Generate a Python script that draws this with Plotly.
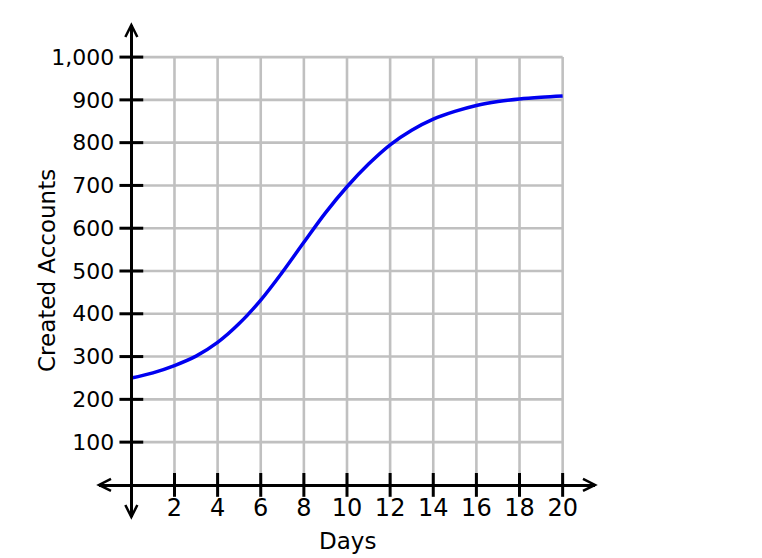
import plotly.graph_objects as go

# data
days = [0, 1, 2, 3, 4, 5, 6, 7, 8, 9, 10, 11, 12, 13, 14, 15, 16, 17, 18, 19, 20]
accounts = [250, 262, 279, 301, 333, 377, 432, 497, 567, 636, 697, 750, 795, 829, 855, 873, 887, 896, 902, 906, 909]

x_ticks = [2, 4, 6, 8, 10, 12, 14, 16, 18, 20]
y_ticks = [100, 200, 300, 400, 500, 600, 700, 800, 900, 1000]
y_labels = ['100', '200', '300', '400', '500', '600', '700', '800', '900', '1,000']

FONT = 'DejaVu Sans'
GRID = '#c0c0c0'

fig = go.Figure()

# grid, only inside 0..20 / 0..1000
gx, gy = [], []
for v in x_ticks:
    gx += [v, v, None]
    gy += [0, y_ticks[-1], None]
for v in y_ticks:
    gx += [0, x_ticks[-1], None]
    gy += [v, v, None]
fig.add_trace(go.Scatter(x=gx, y=gy, mode='lines', line=dict(color=GRID, width=2.6),
                         hoverinfo='skip', showlegend=False))

# the S-curve
fig.add_trace(go.Scatter(x=days, y=accounts, mode='lines',
                         line=dict(color='#0000f0', width=3.5, shape='spline'),
                         showlegend=False))

# tick marks crossing the axes
fig.add_trace(go.Scatter(x=x_ticks, y=[0] * len(x_ticks), mode='markers',
                         marker=dict(symbol='line-ns', size=17, line=dict(color='black', width=3)),
                         hoverinfo='skip', showlegend=False))
fig.add_trace(go.Scatter(x=[0] * len(y_ticks), y=y_ticks, mode='markers',
                         marker=dict(symbol='line-ew', size=17, line=dict(color='black', width=3)),
                         hoverinfo='skip', showlegend=False))

# open chevron arrow heads at both ends of each axis
pos = 1.5 / 23
arrows = [
    (1, pos, 'M-12,6 L0,0 L-12,-6'),
    (0, pos, 'M12,6 L0,0 L12,-6'),
    (pos, 1, 'M-6,-12 L0,0 L6,-12'),
    (pos, 0, 'M-6,12 L0,0 L6,12'),
]
for ax_, ay_, p in arrows:
    fig.add_shape(type='path', xref='x domain', yref='y domain', xsizemode='pixel', ysizemode='pixel',
                  xanchor=ax_, yanchor=ay_, path=p, line=dict(color='black', width=2.5))

fig.add_annotation(text='Days', xref='paper', yref='paper', x=0.5, y=0, yshift=-24,
                   xanchor='center', yanchor='middle',
                   showarrow=False, font=dict(family=FONT, size=23, color='black'))
fig.add_annotation(text='Created Accounts', xref='paper', yref='paper', x=0, y=0.5, xshift=-52,
                   xanchor='center', yanchor='middle',
                   textangle=-90, showarrow=False, font=dict(family=FONT, size=23, color='black'))

fig.update_layout(
    width=762, height=558,
    margin=dict(l=91, r=175, t=17, b=49),
    paper_bgcolor='white', plot_bgcolor='white',
    font=dict(family=FONT, size=22, color='black'),
    xaxis=dict(range=[-1.5, 21.5], anchor='free', position=pos, showline=True, linecolor='black',
               linewidth=2.5, showgrid=False, zeroline=False, tickmode='array', tickvals=x_ticks,
               ticks='', ticklabelstandoff=1, tickfont=dict(size=24)),
    yaxis=dict(range=[-75, 1075], anchor='free', position=pos, showline=True, linecolor='black',
               linewidth=2.5, showgrid=False, zeroline=False, tickmode='array', tickvals=y_ticks,
               ticktext=y_labels, ticks='', ticklabelstandoff=12, tickfont=dict(size=22)),
)

fig.write_html('out.html')
